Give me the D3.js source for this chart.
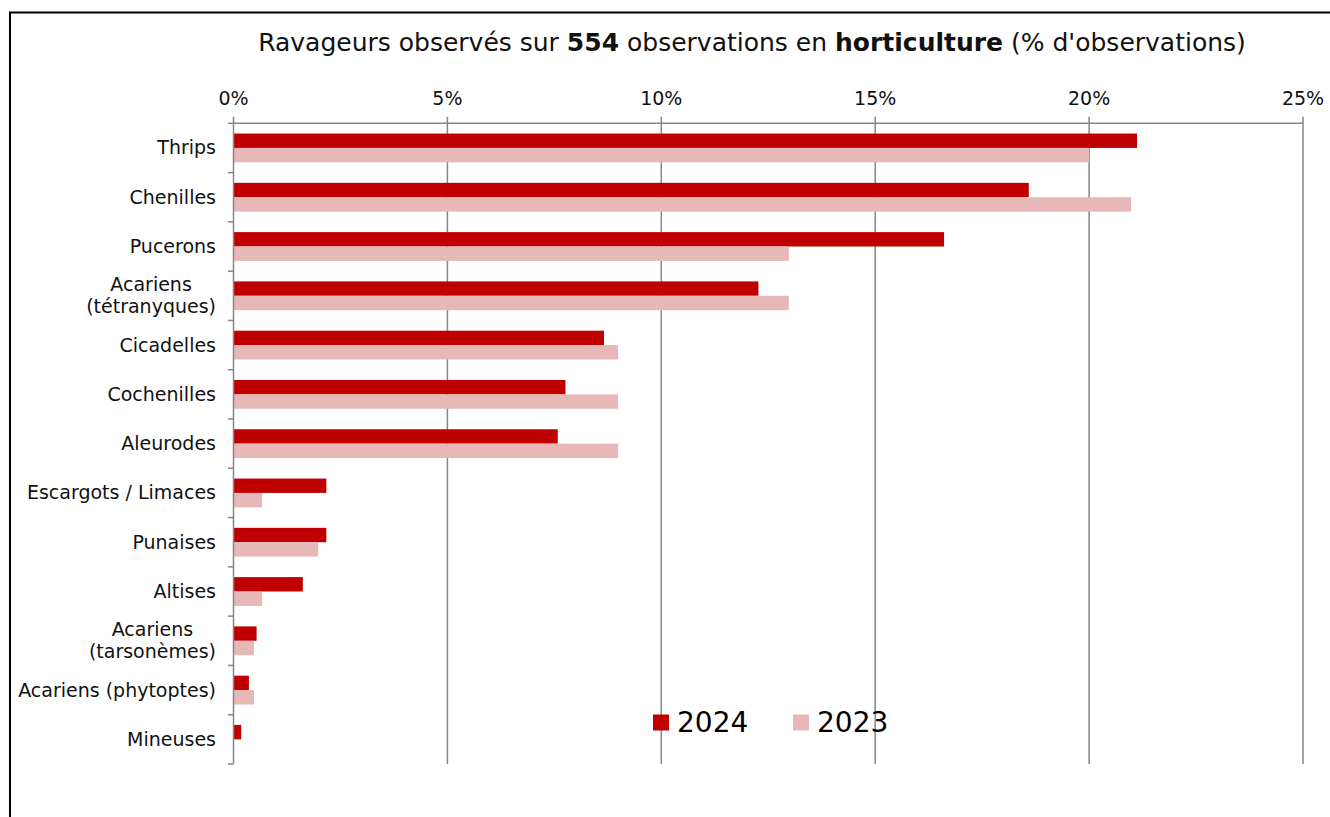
<!DOCTYPE html>
<html>
<head>
<meta charset="utf-8">
<script src="https://cdn.jsdelivr.net/npm/d3@7"></script>
<style>
  html, body { margin: 0; padding: 0; background: #fff; }
  svg { display: block; }
  text { font-family: "DejaVu Sans", Verdana, sans-serif; }
</style>
</head>
<body>
<svg id="chart" width="1330" height="817"></svg>
<script>
// ---- Data ----
const categories = [
  "Thrips", "Chenilles", "Pucerons", "Acariens\n(tétranyques)", "Cicadelles",
  "Cochenilles", "Aleurodes", "Escargots / Limaces", "Punaises", "Altises",
  "Acariens\n(tarsonèmes)", "Acariens (phytoptes)", "Mineuses"
];
const values2024 = [21.12, 18.59, 16.61, 12.27, 8.66, 7.76, 7.58, 2.17, 2.17, 1.62, 0.54, 0.36, 0.18];
const values2023 = [20.0, 20.98, 12.98, 12.98, 8.99, 8.99, 8.99, 0.67, 1.98, 0.67, 0.48, 0.48, 0];
const seriesNames = ["2024", "2023"];
const seriesColors = ["#C00000", "#E6B9B8"];
const xTicks = [0, 5, 10, 15, 20, 25];
const titleParts = [
  {t: "Ravageurs observés sur ", b: false},
  {t: "554", b: true},
  {t: " observations en ", b: false},
  {t: "horticulture", b: true},
  {t: " (% d'observations)", b: false}
];

(function () {
// ---- Layout ----
const svg = d3.select("#chart");
const W = 1330, H = 817;
const pLeft = 233.5, pRight = 1303, pTop = 123.3, pBottom = 764;

svg.append("rect").attr("width", W).attr("height", H).attr("fill", "#fff");
// frame
svg.append("rect").attr("x", 10).attr("y", 12.5).attr("width", 1400).attr("height", 1000)
  .attr("fill", "none").attr("stroke", "#000").attr("stroke-width", 2);

const x = d3.scaleLinear().domain([0, 25]).range([pLeft, pRight]);
const y = d3.scaleBand().domain(categories).range([pTop, pBottom]).paddingInner(0).paddingOuter(0);
const step = y.step();
const barH = step * 0.292;
const offset = (step - 2 * barH) / 2;

const gridColor = "#868686";
svg.append("g").selectAll("line").data(xTicks.filter(d => d > 0)).join("line")
  .attr("x1", d => x(d)).attr("x2", d => x(d))
  .attr("y1", pTop - 6.5).attr("y2", pBottom)
  .attr("stroke", gridColor).attr("stroke-width", 1.5);

svg.append("line").attr("x1", pLeft).attr("x2", pRight).attr("y1", pTop).attr("y2", pTop)
  .attr("stroke", gridColor).attr("stroke-width", 1.5);

const series = [values2024, values2023];
series.forEach((vals, si) => {
  svg.append("g").selectAll("rect").data(categories).join("rect")
    .attr("x", x(0))
    .attr("y", (d) => y(d) + offset + si * barH)
    .attr("width", (d, i) => Math.max(0, x(vals[i]) - x(0)))
    .attr("height", barH)
    .attr("fill", seriesColors[si]);
});

svg.append("line").attr("x1", x(0)).attr("x2", x(0)).attr("y1", pTop - 6.5).attr("y2", pBottom)
  .attr("stroke", gridColor).attr("stroke-width", 1.5);
const boundaries = categories.map(c => y(c)).concat([pBottom]);
svg.append("g").selectAll("line").data(boundaries).join("line")
  .attr("x1", x(0) - 5.5).attr("x2", x(0))
  .attr("y1", d => d).attr("y2", d => d)
  .attr("stroke", gridColor).attr("stroke-width", 1.5);

svg.append("g").selectAll("text").data(xTicks).join("text")
  .attr("x", d => x(d)).attr("y", 104.5)
  .attr("text-anchor", "middle")
  .attr("font-size", 19).attr("fill", "#111")
  .text(d => d + "%");

const labelRight = 216;
const lblG = svg.append("g");
categories.forEach(c => {
  const lines = c.split("\n");
  const cy = y(c) + step / 2 + 6.5;
  const lh = 22;
  const g = lblG.append("g");
  const texts = lines.map((ln, i) => g.append("text")
    .attr("y", cy + (i - (lines.length - 1) / 2) * lh)
    .attr("font-size", 19).attr("fill", "#111")
    .text(ln));
  const widths = texts.map(t => t.node().getComputedTextLength());
  const maxW = Math.max(...widths);
  texts.forEach(t => t.attr("text-anchor", "middle").attr("x", labelRight - maxW / 2));
});

const title = svg.append("text").attr("x", 752).attr("y", 51)
  .attr("text-anchor", "middle").attr("font-size", 25).attr("fill", "#111");
titleParts.forEach(p => title.append("tspan").attr("font-weight", p.b ? "bold" : "normal").text(p.t));

const legX = [653, 793];
seriesNames.forEach((n, i) => {
  svg.append("rect").attr("x", legX[i]).attr("y", 714.5).attr("width", 16).attr("height", 16)
    .attr("fill", seriesColors[i]);
  svg.append("text").attr("x", legX[i] + 24).attr("y", 732)
    .attr("font-size", 28).attr("fill", "#000").text(n);
});
})();
</script>
</body>
</html>
